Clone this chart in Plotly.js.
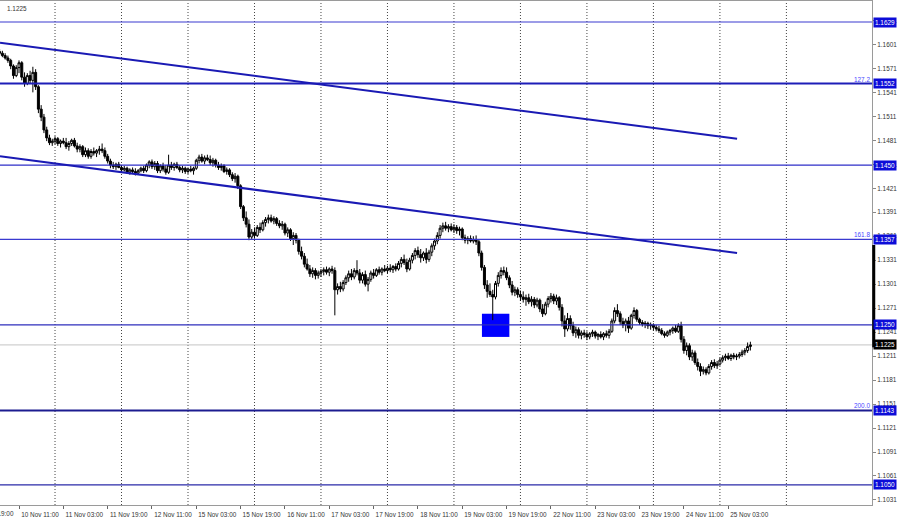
<!DOCTYPE html>
<html><head><meta charset="utf-8">
<script src="https://cdn.plot.ly/plotly-3.0.1.min.js"></script>
<style>html,body{margin:0;padding:0;background:#fff;}#chart{width:900px;height:519px;}</style>
</head><body><div id="chart"></div>
<script>
// ---- DATA ----
const firstBar = -7; // bar index of first candle (bar 0 = 10 Nov 11:00)
const openP = [
1.1592,1.1590,1.1587,1.1584,1.1581,1.1574,1.1562,1.1572,1.1578,1.1560,
1.1552,1.1562,1.1556,1.1566,1.1548,1.1520,1.1510,1.1494,1.1484,1.1478,
1.1480,1.1483,1.1477,1.1480,1.1478,1.1473,1.1477,1.1481,1.1474,1.1470,
1.1473,1.1463,1.1468,1.1461,1.1467,1.1465,1.1468,1.1470,1.1468,1.1461,
1.1455,1.1450,1.1448,1.1451,1.1447,1.1444,1.1446,1.1441,1.1444,1.1442,
1.1440,1.1443,1.1446,1.1443,1.1450,1.1454,1.1448,1.1452,1.1443,1.1449,
1.1445,1.1441,1.1450,1.1447,1.1451,1.1447,1.1444,1.1446,1.1442,1.1445,
1.1443,1.1446,1.1456,1.1460,1.1455,1.1459,1.1457,1.1453,1.1456,1.1450,
1.1447,1.1449,1.1442,1.1444,1.1438,1.1433,1.1436,1.1424,1.1398,1.1384,
1.1376,1.1360,1.1366,1.1362,1.1372,1.1369,1.1378,1.1382,1.1384,1.1380,
1.1383,1.1377,1.1374,1.1376,1.1365,1.1369,1.1358,1.1362,1.1356,1.1342,
1.1336,1.1326,1.1320,1.1314,1.1318,1.1312,1.1315,1.1317,1.1319,1.1316,
1.1320,1.1318,1.1294,1.1298,1.1295,1.1303,1.1309,1.1314,1.1310,1.1318,
1.1315,1.1306,1.1313,1.1301,1.1307,1.1315,1.1312,1.1319,1.1316,1.1320,
1.1318,1.1321,1.1319,1.1323,1.1320,1.1327,1.1332,1.1328,1.1320,1.1331,
1.1337,1.1343,1.1338,1.1334,1.1340,1.1332,1.1341,1.1349,1.1355,1.1362,
1.1371,1.1374,1.1371,1.1373,1.1369,1.1372,1.1368,1.1370,1.1359,1.1356,
1.1358,1.1355,1.1357,1.1354,1.1340,1.1322,1.1300,1.1292,1.1288,1.1285,
1.1302,1.1312,1.1318,1.1316,1.1309,1.1300,1.1291,1.1294,1.1288,1.1285,
1.1282,1.1284,1.1279,1.1282,1.1275,1.1281,1.1270,1.1264,1.1276,1.1283,
1.1286,1.1280,1.1284,1.1272,1.1255,1.1245,1.1258,1.1249,1.1240,1.1244,
1.1237,1.1240,1.1238,1.1235,1.1239,1.1241,1.1236,1.1238,1.1235,1.1239,
1.1237,1.1242,1.1255,1.1268,1.1264,1.1254,1.1250,1.1255,1.1246,1.1262,
1.1268,1.1257,1.1253,1.1251,1.1252,1.1249,1.1250,1.1247,1.1245,1.1243,
1.1239,1.1237,1.1241,1.1243,1.1246,1.1242,1.1249,1.1232,1.1218,1.1224,
1.1210,1.1215,1.1203,1.1198,1.1192,1.1194,1.1190,1.1198,1.1203,1.1199,
1.1201,1.1206,1.1209,1.1211,1.1208,1.1212,1.1210,1.1211,1.1213,1.1216,
1.1218,1.1223];
const highP = [
1.1595,1.1593,1.1590,1.1587,1.1583,1.1576,1.1575,1.1581,1.1580,1.1566,
1.1565,1.1568,1.1573,1.1570,1.1550,1.1525,1.1514,1.1498,1.1488,1.1483,
1.1486,1.1485,1.1482,1.1484,1.1484,1.1480,1.1483,1.1484,1.1478,1.1476,
1.1475,1.1472,1.1471,1.1470,1.1472,1.1470,1.1474,1.1477,1.1472,1.1464,
1.1458,1.1454,1.1453,1.1454,1.1450,1.1449,1.1448,1.1446,1.1447,1.1446,
1.1445,1.1448,1.1449,1.1452,1.1456,1.1457,1.1455,1.1455,1.1451,1.1453,
1.1450,1.1463,1.1454,1.1453,1.1454,1.1450,1.1449,1.1448,1.1447,1.1449,
1.1448,1.1458,1.1463,1.1464,1.1462,1.1463,1.1462,1.1459,1.1458,1.1454,
1.1452,1.1451,1.1447,1.1446,1.1441,1.1440,1.1438,1.1426,1.1400,1.1392,
1.1382,1.1370,1.1372,1.1375,1.1378,1.1381,1.1385,1.1388,1.1388,1.1386,
1.1385,1.1381,1.1380,1.1378,1.1372,1.1371,1.1366,1.1365,1.1358,1.1348,
1.1340,1.1333,1.1325,1.1322,1.1321,1.1318,1.1320,1.1322,1.1323,1.1322,
1.1324,1.1322,1.1302,1.1304,1.1306,1.1312,1.1318,1.1320,1.1321,1.1331,
1.1320,1.1316,1.1318,1.1310,1.1318,1.1320,1.1321,1.1323,1.1322,1.1325,
1.1324,1.1326,1.1325,1.1327,1.1330,1.1335,1.1338,1.1333,1.1334,1.1340,
1.1346,1.1348,1.1345,1.1342,1.1346,1.1344,1.1352,1.1358,1.1366,1.1375,
1.1378,1.1379,1.1376,1.1377,1.1376,1.1375,1.1373,1.1372,1.1363,1.1361,
1.1362,1.1361,1.1362,1.1357,1.1343,1.1325,1.1306,1.1302,1.1294,1.1305,
1.1316,1.1322,1.1323,1.1322,1.1312,1.1305,1.1298,1.1297,1.1293,1.1292,
1.1288,1.1289,1.1286,1.1285,1.1284,1.1283,1.1276,1.1279,1.1286,1.1290,
1.1289,1.1288,1.1286,1.1276,1.1262,1.1265,1.1262,1.1254,1.1248,1.1247,
1.1243,1.1244,1.1242,1.1241,1.1244,1.1243,1.1240,1.1242,1.1241,1.1243,
1.1245,1.1258,1.1272,1.1276,1.1267,1.1259,1.1258,1.1260,1.1264,1.1272,
1.1270,1.1259,1.1256,1.1255,1.1254,1.1253,1.1252,1.1250,1.1249,1.1246,
1.1242,1.1243,1.1245,1.1248,1.1250,1.1252,1.1254,1.1236,1.1228,1.1227,
1.1219,1.1218,1.1208,1.1202,1.1198,1.1197,1.1201,1.1206,1.1207,1.1205,
1.1209,1.1212,1.1214,1.1215,1.1214,1.1215,1.1214,1.1216,1.1219,1.1221,
1.1228,1.1229];
const lowP = [
1.1588,1.1585,1.1582,1.1578,1.1570,1.1558,1.1560,1.1565,1.1556,1.1548,
1.1550,1.1552,1.1541,1.1544,1.1515,1.1505,1.1490,1.1480,1.1475,1.1474,
1.1476,1.1474,1.1472,1.1476,1.1470,1.1468,1.1474,1.1472,1.1466,1.1466,
1.1460,1.1460,1.1458,1.1458,1.1462,1.1460,1.1463,1.1465,1.1458,1.1452,
1.1446,1.1445,1.1444,1.1446,1.1441,1.1442,1.1439,1.1438,1.1440,1.1437,
1.1438,1.1441,1.1440,1.1441,1.1446,1.1445,1.1444,1.1440,1.1440,1.1442,
1.1438,1.1439,1.1444,1.1443,1.1445,1.1441,1.1440,1.1439,1.1439,1.1441,
1.1438,1.1444,1.1452,1.1453,1.1451,1.1455,1.1450,1.1448,1.1447,1.1444,
1.1443,1.1440,1.1438,1.1435,1.1430,1.1428,1.1420,1.1395,1.1380,1.1372,
1.1356,1.1357,1.1358,1.1360,1.1365,1.1367,1.1373,1.1377,1.1378,1.1376,
1.1374,1.1371,1.1369,1.1362,1.1360,1.1355,1.1350,1.1352,1.1338,1.1332,
1.1322,1.1318,1.1310,1.1309,1.1307,1.1308,1.1310,1.1312,1.1313,1.1311,
1.1314,1.1262,1.1288,1.1291,1.1292,1.1300,1.1304,1.1306,1.1307,1.1312,
1.1302,1.1302,1.1298,1.1292,1.1304,1.1308,1.1310,1.1313,1.1312,1.1316,
1.1314,1.1316,1.1315,1.1317,1.1318,1.1322,1.1325,1.1316,1.1318,1.1327,
1.1332,1.1334,1.1328,1.1330,1.1327,1.1329,1.1336,1.1344,1.1351,1.1358,
1.1366,1.1368,1.1366,1.1367,1.1365,1.1364,1.1362,1.1356,1.1352,1.1351,
1.1353,1.1352,1.1350,1.1336,1.1318,1.1295,1.1284,1.1285,1.1256,1.1282,
1.1298,1.1308,1.1312,1.1306,1.1296,1.1287,1.1286,1.1284,1.1280,1.1278,
1.1274,1.1276,1.1273,1.1271,1.1272,1.1266,1.1260,1.1262,1.1272,1.1278,
1.1276,1.1275,1.1268,1.1248,1.1235,1.1242,1.1244,1.1236,1.1234,1.1233,
1.1232,1.1234,1.1231,1.1232,1.1235,1.1233,1.1231,1.1233,1.1231,1.1234,
1.1233,1.1240,1.1252,1.1260,1.1250,1.1246,1.1242,1.1240,1.1244,1.1258,
1.1254,1.1250,1.1248,1.1246,1.1245,1.1244,1.1243,1.1242,1.1240,1.1237,
1.1234,1.1235,1.1237,1.1239,1.1240,1.1240,1.1228,1.1214,1.1212,1.1206,
1.1205,1.1200,1.1193,1.1186,1.1188,1.1187,1.1188,1.1194,1.1196,1.1195,
1.1199,1.1203,1.1205,1.1206,1.1205,1.1207,1.1206,1.1208,1.1210,1.1212,
1.1215,1.1218];
const closeP = [
1.1590,1.1587,1.1584,1.1581,1.1574,1.1562,1.1572,1.1578,1.1560,1.1552,
1.1562,1.1556,1.1566,1.1548,1.1520,1.1510,1.1494,1.1484,1.1478,1.1480,
1.1483,1.1477,1.1480,1.1478,1.1473,1.1477,1.1481,1.1474,1.1470,1.1473,
1.1463,1.1468,1.1461,1.1467,1.1465,1.1468,1.1470,1.1468,1.1461,1.1455,
1.1450,1.1448,1.1451,1.1447,1.1444,1.1446,1.1441,1.1444,1.1442,1.1440,
1.1443,1.1446,1.1443,1.1450,1.1454,1.1448,1.1452,1.1443,1.1449,1.1445,
1.1441,1.1450,1.1447,1.1451,1.1447,1.1444,1.1446,1.1442,1.1445,1.1443,
1.1446,1.1456,1.1460,1.1455,1.1459,1.1457,1.1453,1.1456,1.1450,1.1447,
1.1449,1.1442,1.1444,1.1438,1.1433,1.1436,1.1424,1.1398,1.1384,1.1376,
1.1360,1.1366,1.1362,1.1372,1.1369,1.1378,1.1382,1.1384,1.1380,1.1383,
1.1377,1.1374,1.1376,1.1365,1.1369,1.1358,1.1362,1.1356,1.1342,1.1336,
1.1326,1.1320,1.1314,1.1318,1.1312,1.1315,1.1317,1.1319,1.1316,1.1320,
1.1318,1.1294,1.1298,1.1295,1.1303,1.1309,1.1314,1.1310,1.1318,1.1315,
1.1306,1.1313,1.1301,1.1307,1.1315,1.1312,1.1319,1.1316,1.1320,1.1318,
1.1321,1.1319,1.1323,1.1320,1.1327,1.1332,1.1328,1.1320,1.1331,1.1337,
1.1343,1.1338,1.1334,1.1340,1.1332,1.1341,1.1349,1.1355,1.1362,1.1371,
1.1374,1.1371,1.1373,1.1369,1.1372,1.1368,1.1370,1.1359,1.1356,1.1358,
1.1355,1.1357,1.1354,1.1340,1.1322,1.1300,1.1292,1.1288,1.1285,1.1302,
1.1312,1.1318,1.1316,1.1309,1.1300,1.1291,1.1294,1.1288,1.1285,1.1282,
1.1284,1.1279,1.1282,1.1275,1.1281,1.1270,1.1264,1.1276,1.1283,1.1286,
1.1280,1.1284,1.1272,1.1255,1.1245,1.1258,1.1249,1.1240,1.1244,1.1237,
1.1240,1.1238,1.1235,1.1239,1.1241,1.1236,1.1238,1.1235,1.1239,1.1237,
1.1242,1.1255,1.1268,1.1264,1.1254,1.1250,1.1255,1.1246,1.1262,1.1268,
1.1257,1.1253,1.1251,1.1252,1.1249,1.1250,1.1247,1.1245,1.1243,1.1239,
1.1237,1.1241,1.1243,1.1246,1.1242,1.1249,1.1232,1.1218,1.1224,1.1210,
1.1215,1.1203,1.1198,1.1192,1.1194,1.1190,1.1198,1.1203,1.1199,1.1201,
1.1206,1.1209,1.1211,1.1208,1.1212,1.1210,1.1211,1.1213,1.1216,1.1218,
1.1223,1.1225];

// time-axis labels, one every 16 hourly bars, first one at bar -16
const xTickLabels = ["9 Nov 19:00","10 Nov 11:00","11 Nov 03:00","11 Nov 19:00","12 Nov 11:00",
  "15 Nov 03:00","15 Nov 19:00","16 Nov 11:00","17 Nov 03:00","17 Nov 19:00","18 Nov 11:00",
  "19 Nov 03:00","19 Nov 19:00","22 Nov 11:00","23 Nov 03:00","23 Nov 19:00","24 Nov 11:00","25 Nov 03:00"];
const xTickFirstBar = -16;
const barsPerLabel = 16;
// bars at which a new trading day starts (daily separators)
const dayStartBars = [13,37,61,85,109,133,157,181,205,229,253,277];

// price-scale ticks
const yTickVals = [1.1031,1.1061,1.1091,1.1121,1.1151,1.1181,1.1211,1.1241,1.1271,1.1301,1.1331,
  1.1361,1.1391,1.1421,1.1451,1.1481,1.1511,1.1541,1.1571,1.1601,1.1631];

// horizontal levels
const levelPrices = [1.1629,1.1552,1.1450,1.1357,1.1250,1.1143,1.1050];
const fibPrices = [1.1552,1.1357,1.1143];
const fibLabels = ["127.2","161.8","200.0"];
const lastPrice = 1.1225;

// channel trend lines: [bar, price] anchors
const channelUpperBars = [-6.86,259.2];
const channelUpperPrices = [1.1603,1.1483];
const channelLowerBars = [-6.86,259.2];
const channelLowerPrices = [1.1461,1.1340];
// highlighted zone
const zoneBars = [167.1,177.0];
const zonePrices = [1.1235,1.1264];
// black marker on price scale
const scaleMarkPrices = [1.1350,1.1222];

// ---- STYLE / LAYOUT ----
const levelWidths = [1.2,2,1.4,1.2,1.2,2,1.2];
const levelColors = ['#3a3ad0','#1e1eb8','#2e2ec8','#3a3ad0','#2e2ebc','#1c1c90','#2a2aa8'];
const FONT = '"Liberation Sans", Arial, sans-serif';
const FS = 6.4;
const xRange = [-6.86, 307.9];
const yRange = [1.10247, 1.16553];

const xs = closeP.map((_, i) => firstBar + i);

const trace = {
  type: 'candlestick', x: xs, open: openP, high: highP, low: lowP, close: closeP,
  increasing: {line: {color: '#000', width: 1}, fillcolor: '#ffffff'},
  decreasing: {line: {color: '#000', width: 1}, fillcolor: '#000000'},
  whiskerwidth: 0, hoverinfo: 'skip', showlegend: false
};

const tickBars = xTickLabels.map((_, i) => xTickFirstBar + barsPerLabel * i);
const inRange = tickBars.map(b => b >= xRange[0] && b <= xRange[1]);

const shapes = [];
dayStartBars.forEach(b => shapes.push({type:'line', xref:'x', yref:'paper', x0:b, x1:b, y0:0, y1:1,
  line:{color:'#444', width:1, dash:'1px,2px'}, layer:'below'}));
shapes.push({type:'rect', xref:'x', yref:'y', x0:zoneBars[0], x1:zoneBars[1], y0:zonePrices[0], y1:zonePrices[1],
  fillcolor:'#0000ff', line:{width:0}, layer:'below'});
shapes.push({type:'line', xref:'paper', yref:'y', x0:0, x1:1, y0:lastPrice, y1:lastPrice,
  line:{color:'#c4c4c4', width:1}, layer:'below'});
levelPrices.forEach((p, i) => shapes.push({type:'line', xref:'paper', yref:'y', x0:0, x1:1, y0:p, y1:p,
  line:{color:levelColors[i], width:levelWidths[i]}}));
shapes.push({type:'line', xref:'x', yref:'y', x0:channelUpperBars[0], x1:channelUpperBars[1],
  y0:channelUpperPrices[0], y1:channelUpperPrices[1], line:{color:'#1a1ab4', width:2}});
shapes.push({type:'line', xref:'x', yref:'y', x0:channelLowerBars[0], x1:channelLowerBars[1],
  y0:channelLowerPrices[0], y1:channelLowerPrices[1], line:{color:'#1a1ab4', width:2}});
shapes.push({type:'line', xref:'paper', yref:'y', x0:1.002, x1:1.002, y0:scaleMarkPrices[0], y1:scaleMarkPrices[1],
  line:{color:'#000', width:3}});

const annotations = [];
levelPrices.forEach(p => annotations.push({xref:'paper', yref:'y', x:1, y:p, xanchor:'left', yanchor:'middle',
  text:p.toFixed(4), showarrow:false, bgcolor:'#0c0cd8', borderpad:1, xshift:1,
  font:{family:FONT, size:FS, color:'#ffffff'}}));
annotations.push({xref:'paper', yref:'y', x:1, y:lastPrice, xanchor:'left', yanchor:'middle',
  text:lastPrice.toFixed(4), showarrow:false, bgcolor:'#000000', borderpad:1, xshift:1,
  font:{family:FONT, size:FS, color:'#ffffff'}});
fibPrices.forEach((p, i) => annotations.push({xref:'paper', yref:'y', x:1, y:p, xanchor:'right', yanchor:'bottom',
  text:fibLabels[i], showarrow:false, yshift:-1, font:{family:FONT, size:FS, color:'#4848ff'}}));
annotations.push({xref:'paper', yref:'paper', x:0, y:1, xanchor:'left', yanchor:'top', xshift:5, yshift:-2,
  text:lastPrice.toFixed(4), showarrow:false, font:{family:FONT, size:FS, color:'#333'}});
// tick labels whose tick lies left of the visible range (partly visible text)
tickBars.forEach((b, i) => {
  if (!inRange[i]) {
    annotations.push({xref:'paper', yref:'paper', x:(b - xRange[0]) / (xRange[1] - xRange[0]), y:0,
      xanchor:'left', yanchor:'top', xshift:2, yshift:-3, text:xTickLabels[i], showarrow:false,
      font:{family:FONT, size:FS, color:'#333'}});
  }
});

const layout = {
  width: 900, height: 519,
  margin: {l:0, r:28, t:1, b:14, pad:0},
  paper_bgcolor:'#ffffff', plot_bgcolor:'#ffffff',
  showlegend:false, dragmode:false, hovermode:false,
  boxgap:0.15, boxgroupgap:0.15,
  font:{family:FONT, size:FS, color:'#333'},
  xaxis:{
    type:'linear', range:xRange, fixedrange:true, rangeslider:{visible:false},
    tickmode:'array', tickvals:tickBars.filter((b, i) => inRange[i]),
    ticktext:xTickLabels.filter((t, i) => inRange[i]),
    ticks:'outside', ticklen:3, tickcolor:'#666', tickwidth:1, ticklabelshift:21,
    tickfont:{family:FONT, size:FS, color:'#333'},
    showgrid:false, zeroline:false, showline:true, linecolor:'#9a9a9a', linewidth:1, mirror:true
  },
  yaxis:{
    type:'linear', side:'right', range:yRange, fixedrange:true,
    tickmode:'array', tickvals:yTickVals, ticktext:yTickVals.map(v => v.toFixed(4)),
    ticks:'outside', ticklen:3, tickcolor:'#888', tickwidth:1,
    tickfont:{family:FONT, size:FS, color:'#333'},
    showgrid:false, zeroline:false, showline:true, linecolor:'#9a9a9a', linewidth:1
  },
  shapes: shapes, annotations: annotations
};

Plotly.newPlot('chart', [trace], layout, {displayModeBar:false, staticPlot:true});
</script>
</body></html>
